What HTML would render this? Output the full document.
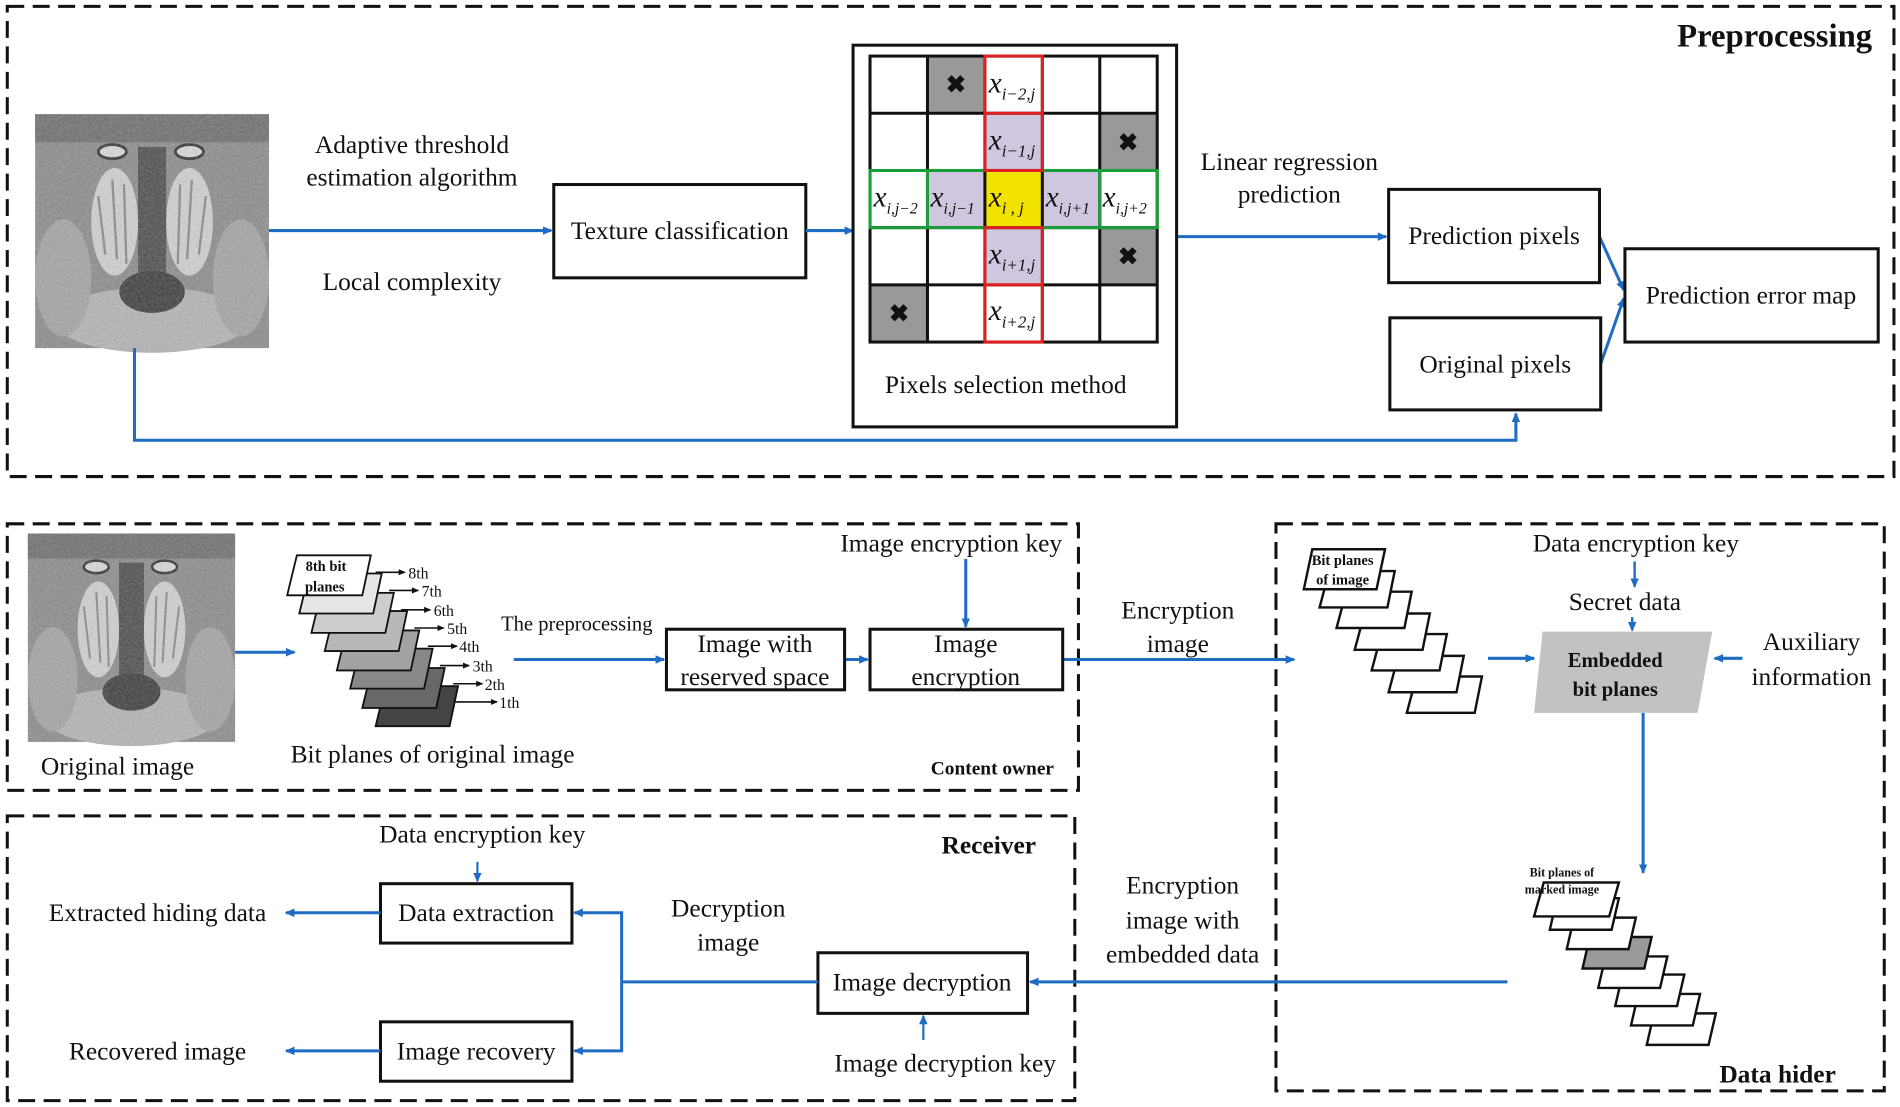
<!DOCTYPE html>
<html><head><meta charset="utf-8"><style>
html,body{margin:0;padding:0;background:#fff;}
svg{display:block;}
svg text{font-family:"Liberation Serif","DejaVu Serif",serif;fill:#111;}
.b{font-weight:bold;}
</style></head><body>
<svg width="1900" height="1107" viewBox="0 0 1568 913" xmlns="http://www.w3.org/2000/svg" font-family="Liberation Serif, DejaVu Serif, serif">
<defs>
<marker id="ar" markerWidth="8" markerHeight="8" refX="7" refY="4" orient="auto" markerUnits="userSpaceOnUse">
<path d="M0,0.5 L8,4 L0,7.5 Z" fill="#1f6cc4"/></marker>
<marker id="ak" markerWidth="6" markerHeight="6" refX="5" refY="3" orient="auto" markerUnits="userSpaceOnUse">
<path d="M0,0.5 L6,3 L0,5.5 Z" fill="#111"/></marker>
<filter id="noise" x="0" y="0" width="100%" height="100%">
<feTurbulence type="fractalNoise" baseFrequency="0.9" numOctaves="2" result="t"/>
<feColorMatrix type="saturate" values="0"/>
<feComponentTransfer><feFuncA type="table" tableValues="0 0.35"/></feComponentTransfer>
<feComposite in2="SourceGraphic" operator="in"/>
</filter>
<g id="mandrill">
<rect x="0" y="0" width="100" height="100" fill="#8c8c8c"/>
<rect x="0" y="0" width="100" height="12" fill="#6f6f6f"/>
<ellipse cx="50" cy="88" rx="42" ry="14" fill="#b4b4b4"/>
<ellipse cx="12" cy="70" rx="12" ry="25" fill="#a4a4a4"/>
<ellipse cx="88" cy="70" rx="12" ry="25" fill="#a4a4a4"/>
<ellipse cx="34" cy="46" rx="10" ry="23" fill="#d0d0d0"/>
<ellipse cx="66" cy="46" rx="10" ry="23" fill="#d0d0d0"/>
<path d="M27,35 L30,60 M33,28 L35,62 M38,30 L39,64 M62,30 L61,64 M67,28 L65,62 M73,35 L70,60" stroke="#8a8a8a" stroke-width="1"/>
<rect x="44" y="14" width="12" height="58" fill="#4e4e4e"/>
<ellipse cx="50" cy="76" rx="14" ry="9" fill="#3e3e3e"/>
<ellipse cx="33" cy="16" rx="6" ry="3" fill="#d8d8d8" stroke="#333" stroke-width="1.2"/>
<ellipse cx="66" cy="16" rx="6" ry="3" fill="#d8d8d8" stroke="#333" stroke-width="1.2"/>
<rect x="0" y="0" width="100" height="100" fill="#fff" filter="url(#noise)"/>
</g>
</defs>

<g fill="none" stroke="#111" stroke-width="2.5" stroke-dasharray="14 7">
<rect x="6" y="5" width="1557" height="388"/>
<rect x="6" y="432" width="884" height="220"/>
<rect x="1053" y="432" width="502" height="468"/>
<rect x="6" y="673" width="881" height="235"/>
</g>

<text x="1545" y="38" text-anchor="end" class="b" font-size="27">Preprocessing</text>
<use href="#mandrill" transform="translate(29,94) scale(1.93)"/>
<text x="340" y="126" text-anchor="middle" font-size="21">Adaptive threshold</text>
<text x="340" y="153" text-anchor="middle" font-size="21">estimation algorithm</text>
<text x="340" y="239" text-anchor="middle" font-size="21">Local complexity</text>
<rect x="457" y="152" width="208" height="77" fill="#fff" stroke="#111" stroke-width="2.5"/>
<text x="561" y="197" text-anchor="middle" font-size="21">Texture classification</text>

<g stroke="#1f6cc4" stroke-width="2.5" fill="none">
<line x1="222" y1="190" x2="455" y2="190" marker-end="url(#ar)"/>
<line x1="665" y1="190" x2="704" y2="190" marker-end="url(#ar)"/>
<line x1="971" y1="195" x2="1144" y2="195" marker-end="url(#ar)"/>
<line x1="1320" y1="195" x2="1340" y2="239" marker-end="url(#ar)"/>
<line x1="1321" y1="300" x2="1340" y2="246" marker-end="url(#ar)"/>
<polyline points="111,287 111,363 1251,363 1251,341" marker-end="url(#ar)"/>
</g>

<rect x="704" y="37" width="267" height="315" fill="#fff" stroke="#111" stroke-width="2.5"/>
<g stroke="none">
<rect x="765.4" y="46" width="47.4" height="47.2" fill="#999"/>
<rect x="907.6" y="93.2" width="47.4" height="47.2" fill="#999"/>
<rect x="907.6" y="187.6" width="47.4" height="47.2" fill="#999"/>
<rect x="718" y="234.8" width="47.4" height="47.2" fill="#999"/>
<rect x="812.8" y="93.2" width="47.4" height="47.2" fill="#cfc6df"/>
<rect x="812.8" y="187.6" width="47.4" height="47.2" fill="#cfc6df"/>
<rect x="765.4" y="140.4" width="47.4" height="47.2" fill="#cfc6df"/>
<rect x="860.2" y="140.4" width="47.4" height="47.2" fill="#cfc6df"/>
<rect x="812.8" y="140.4" width="47.4" height="47.2" fill="#f2e200"/>
</g>
<g stroke="#111" stroke-width="2.5" fill="none">
<rect x="718" y="46" width="237" height="236"/>
<line x1="765.4" y1="46" x2="765.4" y2="282"/><line x1="812.8" y1="46" x2="812.8" y2="282"/>
<line x1="860.2" y1="46" x2="860.2" y2="282"/><line x1="907.6" y1="46" x2="907.6" y2="282"/>
<line x1="718" y1="93.2" x2="955" y2="93.2"/><line x1="718" y1="140.4" x2="955" y2="140.4"/>
<line x1="718" y1="187.6" x2="955" y2="187.6"/><line x1="718" y1="234.8" x2="955" y2="234.8"/>
</g>
<rect x="718" y="140.4" width="237" height="47.2" fill="none" stroke="#1a9e3a" stroke-width="2.5"/>
<line x1="765.4" y1="140.4" x2="765.4" y2="187.6" stroke="#1a9e3a" stroke-width="2.5"/>
<line x1="907.6" y1="140.4" x2="907.6" y2="187.6" stroke="#1a9e3a" stroke-width="2.5"/>
<rect x="812.8" y="46" width="47.4" height="94.4" fill="none" stroke="#e02020" stroke-width="2.5"/>
<line x1="812.8" y1="93.2" x2="860.2" y2="93.2" stroke="#e02020" stroke-width="2.5"/>
<rect x="812.8" y="187.6" width="47.4" height="94.4" fill="none" stroke="#e02020" stroke-width="2.5"/>
<line x1="812.8" y1="234.8" x2="860.2" y2="234.8" stroke="#e02020" stroke-width="2.5"/>
<g font-size="20" font-weight="bold" text-anchor="middle" fill="#111">
<text x="789" y="76">✖</text><text x="931" y="124">✖</text><text x="931" y="218">✖</text><text x="742" y="265">✖</text>
</g>
<g font-size="24" font-style="italic">
<text x="816" y="76">x<tspan font-size="14" dy="6">i−2,j</tspan></text>
<text x="816" y="123">x<tspan font-size="14" dy="6">i−1,j</tspan></text>
<text x="816" y="170">x<tspan font-size="14" dy="6">i , j</tspan></text>
<text x="816" y="217">x<tspan font-size="14" dy="6">i+1,j</tspan></text>
<text x="816" y="264">x<tspan font-size="14" dy="6">i+2,j</tspan></text>
<text x="721" y="170">x<tspan font-size="13" dy="6">i,j−2</tspan></text>
<text x="768" y="170">x<tspan font-size="13" dy="6">i,j−1</tspan></text>
<text x="863" y="170">x<tspan font-size="13" dy="6">i,j+1</tspan></text>
<text x="910" y="170">x<tspan font-size="13" dy="6">i,j+2</tspan></text>
</g>
<text x="830" y="324" text-anchor="middle" font-size="21">Pixels selection method</text>

<text x="1064" y="140" text-anchor="middle" font-size="21">Linear regression</text>
<text x="1064" y="167" text-anchor="middle" font-size="21">prediction</text>
<rect x="1146" y="156" width="174" height="77" fill="#fff" stroke="#111" stroke-width="2.5"/>
<text x="1233" y="201" text-anchor="middle" font-size="21">Prediction pixels</text>
<rect x="1147" y="262" width="174" height="76" fill="#fff" stroke="#111" stroke-width="2.5"/>
<text x="1234" y="307" text-anchor="middle" font-size="21">Original pixels</text>
<rect x="1341" y="205" width="209" height="77" fill="#fff" stroke="#111" stroke-width="2.5"/>
<text x="1445" y="250" text-anchor="middle" font-size="21">Prediction error map</text>

<use href="#mandrill" transform="translate(23,440) scale(1.71,1.72)"/>
<text x="97" y="639" text-anchor="middle" font-size="21">Original image</text>
<g stroke="#1f6cc4" stroke-width="2.5" fill="none">
<line x1="194" y1="538" x2="243" y2="538" marker-end="url(#ar)"/>
<line x1="424" y1="544" x2="548" y2="544" marker-end="url(#ar)"/>
<line x1="697" y1="544" x2="716" y2="544" marker-end="url(#ar)"/>
<line x1="797" y1="461" x2="797" y2="517" marker-end="url(#ar)"/>
<line x1="877" y1="544" x2="1068" y2="544" marker-end="url(#ar)"/>
</g>
<g stroke="#111" stroke-width="1.3" fill="none">
<line x1="310" y1="472" x2="334" y2="472" marker-end="url(#ak)"/>
<line x1="321" y1="487" x2="345" y2="487" marker-end="url(#ak)"/>
<line x1="331" y1="503" x2="355" y2="503" marker-end="url(#ak)"/>
<line x1="342" y1="518" x2="366" y2="518" marker-end="url(#ak)"/>
<line x1="353" y1="533" x2="377" y2="533" marker-end="url(#ak)"/>
<line x1="363" y1="549" x2="387" y2="549" marker-end="url(#ak)"/>
<line x1="374" y1="564" x2="398" y2="564" marker-end="url(#ak)"/>
<line x1="375" y1="579" x2="410" y2="579" marker-end="url(#ak)"/>
</g>
<g stroke="#111" stroke-width="1.5">
<polygon points="318,566 378,566 371,599 310,599" fill="#444"/>
<polygon points="307,551 367,551 360,584 299,584" fill="#686868"/>
<polygon points="297,535 357,535 350,568 289,568" fill="#888"/>
<polygon points="286,520 346,520 339,553 278,553" fill="#a2a2a2"/>
<polygon points="276,504 336,504 329,537 268,537" fill="#b8b8b8"/>
<polygon points="265,489 325,489 318,522 257,522" fill="#cdcdcd"/>
<polygon points="255,473 315,473 308,506 247,506" fill="#e6e6e6"/>
<polygon points="245,458 306,458 299,491 237,491" fill="#fff"/>
</g>
<g font-size="13" fill="#111">
<text x="337" y="477">8th</text><text x="348" y="492">7th</text><text x="358" y="508">6th</text>
<text x="369" y="523">5th</text><text x="379" y="538">4th</text><text x="390" y="554">3th</text>
<text x="400" y="569">2th</text><text x="412" y="584">1th</text>
</g>
<text x="269" y="471" text-anchor="middle" font-size="12" class="b">8th bit</text>
<text x="268" y="488" text-anchor="middle" font-size="12" class="b">planes</text>
<text x="357" y="629" text-anchor="middle" font-size="21">Bit planes of original image</text>
<text x="476" y="520" text-anchor="middle" font-size="17">The preprocessing</text>
<rect x="550" y="519" width="147" height="50" fill="#fff" stroke="#111" stroke-width="2.5"/>
<text x="623" y="538" text-anchor="middle" font-size="21">Image with</text>
<text x="623" y="565" text-anchor="middle" font-size="21">reserved space</text>
<rect x="718" y="519" width="159" height="50" fill="#fff" stroke="#111" stroke-width="2.5"/>
<text x="797" y="538" text-anchor="middle" font-size="21">Image</text>
<text x="797" y="565" text-anchor="middle" font-size="21">encryption</text>
<text x="785" y="455" text-anchor="middle" font-size="21">Image encryption key</text>
<text x="819" y="639" text-anchor="middle" font-size="16" class="b">Content owner</text>
<text x="972" y="510" text-anchor="middle" font-size="21">Encryption</text>
<text x="972" y="538" text-anchor="middle" font-size="21">image</text>

<text x="1350" y="455" text-anchor="middle" font-size="21">Data encryption key</text>
<text x="1341" y="503" text-anchor="middle" font-size="21">Secret data</text>
<g stroke="#1f6cc4" stroke-width="2" fill="none">
<line x1="1349" y1="463" x2="1349" y2="484" marker-end="url(#ar)"/>
<line x1="1347" y1="509" x2="1347" y2="520" marker-end="url(#ar)"/>
</g>
<g stroke="#1f6cc4" stroke-width="2.5" fill="none">
<line x1="1228" y1="543" x2="1266" y2="543" marker-end="url(#ar)"/>
<line x1="1438" y1="543" x2="1415" y2="543" marker-end="url(#ar)"/>
<line x1="1356" y1="588" x2="1356" y2="720" marker-end="url(#ar)"/>
<line x1="1244" y1="810" x2="850" y2="810" marker-end="url(#ar)"/>
</g>
<polygon points="1273,521 1413,521 1401,588 1266,588" fill="#c2c2c2"/>
<text x="1333" y="550" text-anchor="middle" font-size="17" class="b">Embedded</text>
<text x="1333" y="574" text-anchor="middle" font-size="17" class="b">bit planes</text>
<text x="1495" y="536" text-anchor="middle" font-size="21">Auxiliary</text>
<text x="1495" y="565" text-anchor="middle" font-size="21">information</text>
<g stroke="#111" stroke-width="2" fill="#fff">
<polygon points="1169,558 1223,558 1217,588 1161,588"/>
<polygon points="1154,541 1208,541 1202,571 1146,571"/>
<polygon points="1140,523 1194,523 1188,553 1132,553"/>
<polygon points="1126,506 1180,506 1174,536 1118,536"/>
<polygon points="1111,488 1165,488 1159,518 1103,518"/>
<polygon points="1097,471 1151,471 1145,501 1089,501"/>
<polygon points="1083,453 1143,453 1136,486 1076,486"/>
</g>
<text x="1108" y="466" text-anchor="middle" font-size="12" class="b">Bit planes</text>
<text x="1108" y="482" text-anchor="middle" font-size="12" class="b">of image</text>
<g stroke="#111" stroke-width="2" fill="#fff">
<polygon points="1365,836 1416,836 1410,862 1359,862"/>
<polygon points="1352,820 1403,820 1397,846 1346,846"/>
<polygon points="1339,804 1390,804 1384,830 1333,830"/>
<polygon points="1325,789 1376,789 1370,815 1319,815"/>
<polygon points="1312,773 1363,773 1357,799 1306,799" fill="#9a9a9a"/>
<polygon points="1299,757 1350,757 1344,783 1293,783"/>
<polygon points="1285,741 1336,741 1330,767 1279,767"/>
<polygon points="1274,728 1336,728 1328,756 1266,756"/>
</g>
<text x="1289" y="723" text-anchor="middle" font-size="10" class="b">Bit planes of</text>
<text x="1289" y="737" text-anchor="middle" font-size="10" class="b">marked image</text>
<text x="976" y="737" text-anchor="middle" font-size="21">Encryption</text>
<text x="976" y="766" text-anchor="middle" font-size="21">image with</text>
<text x="976" y="794" text-anchor="middle" font-size="21">embedded data</text>
<text x="1467" y="893" text-anchor="middle" font-size="21" class="b">Data hider</text>

<text x="816" y="704" text-anchor="middle" font-size="21" class="b">Receiver</text>
<text x="398" y="695" text-anchor="middle" font-size="21">Data encryption key</text>
<rect x="314" y="729" width="158" height="49" fill="#fff" stroke="#111" stroke-width="2.5"/>
<text x="393" y="760" text-anchor="middle" font-size="21">Data extraction</text>
<rect x="314" y="843" width="158" height="49" fill="#fff" stroke="#111" stroke-width="2.5"/>
<text x="393" y="874" text-anchor="middle" font-size="21">Image recovery</text>
<rect x="675" y="786" width="173" height="50" fill="#fff" stroke="#111" stroke-width="2.5"/>
<text x="761" y="817" text-anchor="middle" font-size="21">Image decryption</text>
<text x="780" y="884" text-anchor="middle" font-size="21">Image decryption key</text>
<text x="601" y="756" text-anchor="middle" font-size="21">Decryption</text>
<text x="601" y="784" text-anchor="middle" font-size="21">image</text>
<text x="130" y="760" text-anchor="middle" font-size="21">Extracted hiding data</text>
<text x="130" y="874" text-anchor="middle" font-size="21">Recovered image</text>
<g stroke="#1f6cc4" stroke-width="2.5" fill="none">
<line x1="394" y1="711" x2="394" y2="727" marker-end="url(#ar)" stroke-width="1.8"/>
<line x1="762" y1="858" x2="762" y2="838" marker-end="url(#ar)" stroke-width="1.8"/>
<line x1="675" y1="810" x2="513" y2="810"/>
<polyline points="513,810 513,753 474,753" marker-end="url(#ar)"/>
<polyline points="513,810 513,867 474,867" marker-end="url(#ar)"/>
<line x1="314" y1="753" x2="236" y2="753" marker-end="url(#ar)"/>
<line x1="314" y1="867" x2="236" y2="867" marker-end="url(#ar)"/>
</g>
</svg>
</body></html>
